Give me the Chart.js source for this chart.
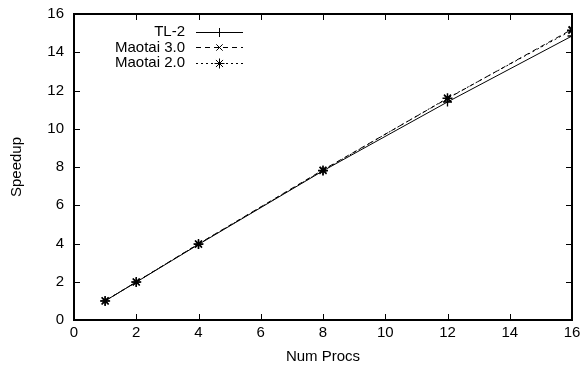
<!DOCTYPE html>
<html>
<head>
<meta charset="utf-8">
<script src="https://cdn.jsdelivr.net/npm/chart.js@4/dist/chart.umd.min.js"></script>
<style>
  html, body { margin: 0; padding: 0; background: #fff; }
  #wrap { width: 582px; height: 370px; }
</style>
</head>
<body>
<div id="wrap"><canvas id="speedChart" width="582" height="370"></canvas></div>
<script>
// values
var procs = [1, 2, 4, 8, 12, 16];
var tl2 = [1, 1.98, 3.95, 7.8, 11.4, 14.85];
var maotai30 = [1, 1.99, 3.98, 7.85, 11.58, 15.2];
var maotai20 = [1, 1.99, 3.97, 7.82, 11.6, 15.15];
var seriesNames = ["TL-2", "Maotai 3.0", "Maotai 2.0"];
var tickValues = [0, 2, 4, 6, 8, 10, 12, 14, 16];

var FONT = "'Liberation Sans', Arial, sans-serif";

function toPoints(ys) {
	var pts = [];
	for (var i = 0; i < procs.length; i++) {
		pts.push({x: procs[i], y: ys[i]});
	}
	return pts;
}

// gnuplot-like frame, inward ticks and a legend with text on the left
var gnuplotFrame = {
	id: 'gnuplotFrame',
	afterDraw: function(chart) {
		var ctx = chart.ctx;
		var a = chart.chartArea;
		var xs = chart.scales.x, ys = chart.scales.y;
		ctx.save();
		ctx.strokeStyle = '#000';
		ctx.lineWidth = 1;
		ctx.setLineDash([]);
		// ticks (inside, mirrored)
		ctx.beginPath();
		tickValues.forEach(function(v) {
			var px = Math.round(xs.getPixelForValue(v)) + 0.5;
			ctx.moveTo(px, a.bottom); ctx.lineTo(px, a.bottom - 6);
			ctx.moveTo(px, a.top); ctx.lineTo(px, a.top + 6);
			var py = Math.round(ys.getPixelForValue(v)) + 0.5;
			ctx.moveTo(a.left, py); ctx.lineTo(a.left + 6, py);
			ctx.moveTo(a.right, py); ctx.lineTo(a.right - 6, py);
		});
		ctx.stroke();
		ctx.lineWidth = 2;
		ctx.strokeRect(a.left, a.top, a.right - a.left, a.bottom - a.top);

		// legend
		ctx.font = '15px ' + FONT;
		ctx.fillStyle = '#000';
		ctx.textAlign = 'right';
		ctx.textBaseline = 'middle';
		var textRight = 185, lineL = 196, lineR = 243, rowY = 31.5, rowH = 15.5;
		chart.data.datasets.forEach(function(ds, i) {
			var y = rowY + i * rowH;
			ctx.fillText(ds.label, textRight, y + 0.5);
			ctx.lineWidth = 1;
			ctx.strokeStyle = ds.borderColor;
			ctx.setLineDash(ds.borderDash || []);
			ctx.beginPath();
			ctx.moveTo(lineL, Math.round(y) + 0.5);
			ctx.lineTo(lineR, Math.round(y) + 0.5);
			ctx.stroke();
			ctx.setLineDash([]);
			Chart.helpers.drawPoint(ctx, {
				pointStyle: ds.pointStyle, radius: ds.pointRadius, borderWidth: 1.3, rotation: 0
			}, (lineL + lineR) / 2, Math.round(y) + 0.5);
		});
		ctx.restore();
	}
};

window.onload = function start() {
	var canvas = document.getElementById("speedChart");

	var speedData = {
		datasets: [{
			label: seriesNames[0],
			data: toPoints(tl2),
			borderColor: "#000",
			backgroundColor: "#000",
			borderWidth: 1,
			pointStyle: 'cross',
			pointRadius: 4.5,
			pointBorderWidth: 1.3
		}, {
			label: seriesNames[1],
			data: toPoints(maotai30),
			borderColor: "#000",
			backgroundColor: "#000",
			borderWidth: 1,
			borderDash: [5, 4],
			pointStyle: 'crossRot',
			pointRadius: 4.5,
			pointBorderWidth: 1.3
		}, {
			label: seriesNames[2],
			data: toPoints(maotai20),
			borderColor: "#000",
			backgroundColor: "#000",
			borderWidth: 1,
			borderDash: [2, 3],
			pointStyle: 'star',
			pointRadius: 5,
			pointBorderWidth: 1.5
		}]
	};

	new Chart(canvas, {
		type: 'line',
		data: speedData,
		options: {
			responsive: false,
			animation: false,
			layout: { padding: { top: 14, right: 10, left: 0, bottom: 0 } },
			plugins: { legend: { display: false }, tooltip: { enabled: false } },
			scales: {
				x: {
					type: 'linear', min: 0, max: 16,
					grid: { display: false, drawTicks: false },
					border: { display: false },
					ticks: { stepSize: 2, color: '#000', padding: 4, maxRotation: 0, font: { family: FONT, size: 15 } },
					title: { display: true, text: 'Num Procs', color: '#000', padding: { top: 4, bottom: 4 }, font: { family: FONT, size: 15 } },
					afterFit: function(s) { s.height = 50; s.paddingLeft = 0; s.paddingRight = 0; }
				},
				y: {
					min: 0, max: 16,
					grid: { display: false, drawTicks: false },
					border: { display: false },
					ticks: { stepSize: 2, color: '#000', padding: 10, font: { family: FONT, size: 15 } },
					title: { display: true, text: 'Speedup', color: '#000', padding: { top: 8, bottom: 10 }, font: { family: FONT, size: 15 } },
					afterFit: function(s) { s.width = 74; s.paddingTop = 0; s.paddingBottom = 0; }
				}
			}
		},
		plugins: [gnuplotFrame]
	});
};
</script>
</body>
</html>
